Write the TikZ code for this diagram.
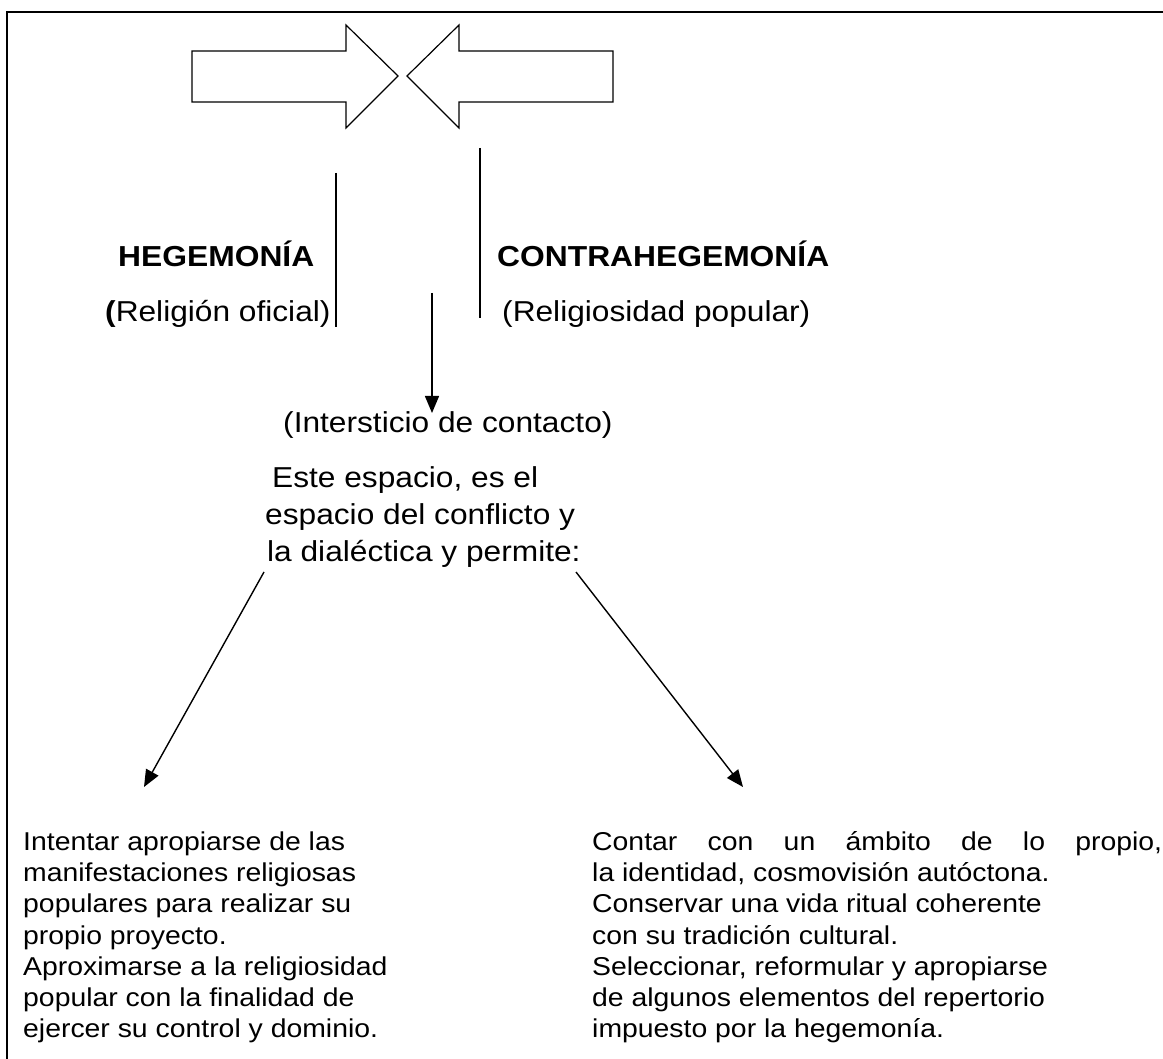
\documentclass[tikz,border=0pt]{standalone}
\usepackage{fontspec}
\setmainfont{Liberation Sans}[FakeStretch=1.1]
\usetikzlibrary{arrows.meta}
\begin{document}
\begin{tikzpicture}[x=1pt,y=-1pt,
  frameline/.style={line width=1.6pt},
  blockarrow/.style={draw, line width=1.2pt, line join=miter, fill=white},
  rulev/.style={line width=1.4pt},
  conn/.style={line width=1.4pt, -{Triangle[length=17pt,width=14pt]}},
  big/.style={font=\fontsize{28.8}{37}\selectfont, inner sep=0pt, anchor=base west},
  bigb/.style={font=\fontsize{28.9}{37}\selectfont\bfseries, inner sep=0pt, anchor=base west},
  small/.style={font=\fontsize{25.8}{31.2}\selectfont, inner sep=0pt, anchor=base west}]
\useasboundingbox (0,0) rectangle (1163,1059);
\fill[white] (0,0) rectangle (1163,1059);
% frame (top and left edges)
\draw[frameline] (7,1059) -- (7,12) -- (1163,12);
% block arrows
\draw[blockarrow] (192,51) -- (346,51) -- (346,25) -- (398,76) -- (346,128) -- (346,102) -- (192,102) -- cycle;
\draw[blockarrow] (613,51) -- (459,51) -- (459,25) -- (407,76) -- (459,128) -- (459,102) -- (613,102) -- cycle;
% vertical rules
\coordinate (lt) at (336,173); \coordinate (lb) at (336,327);
\coordinate (rt) at (480,148); \coordinate (rb) at (480,318);
\draw[rulev] (lt) -- (lb);
\draw[rulev] (rt) -- (rb);
% labels
\node[bigb] (heg) at (118,267) {HEGEMONÍA};
\node[bigb] (contra) at (497,267) {CONTRAHEGEMONÍA};
\node[big] (ofic) at (105,322) {{\bfseries(}Religión oficial)};
\node[big] (popu) at (502,322) {(Religiosidad popular)};
\node[big] (inter) at (283,433) {(Intersticio de contacto)};
\node[big] (m1) at (272,487) {Este espacio, es el};
\node[big] (m2) at (265,524) {espacio del conflicto y};
\node[big] (m3) at (267,561.5) {la dialéctica y permite:};
% connectors
\coordinate (midtop) at (432,293);
\coordinate (midtip) at (432,413);
\draw[conn] (midtop) -- (midtip);
\coordinate (dl0) at (264,572); \coordinate (dl1) at (144,787);
\coordinate (dr0) at (576,572); \coordinate (dr1) at (743,787);
\draw[conn] (dl0) -- (dl1);
\draw[conn] (dr0) -- (dr1);
% bottom left text
\node[small] (l1) at (23,850.5) {Intentar apropiarse de las};
\node[small] (l2) at (23,881.7) {manifestaciones religiosas};
\node[small] (l3) at (23,912.9) {populares para realizar su};
\node[small] (l4) at (23,944.1) {propio proyecto.};
\node[small] (l5) at (23,975.3) {Aproximarse a la religiosidad};
\node[small] (l6) at (23,1006.5) {popular con la finalidad de};
\node[small] (l7) at (23,1037.7) {ejercer su control y dominio.};
% bottom right text
\node[small] (r1) at (592,850.5) {\makebox[570pt][s]{Contar con un ámbito de lo propio,}};
\node[small] (r2) at (592,881.7) {la identidad, cosmovisión autóctona.};
\node[small] (r3) at (592,912.9) {Conservar una vida ritual coherente};
\node[small] (r4) at (592,944.1) {con su tradición cultural.};
\node[small] (r5) at (592,975.3) {Seleccionar, reformular y apropiarse};
\node[small] (r6) at (592,1006.5) {de algunos elementos del repertorio};
\node[small] (r7) at (592,1037.7) {impuesto por la hegemonía.};
\end{tikzpicture}
\end{document}
